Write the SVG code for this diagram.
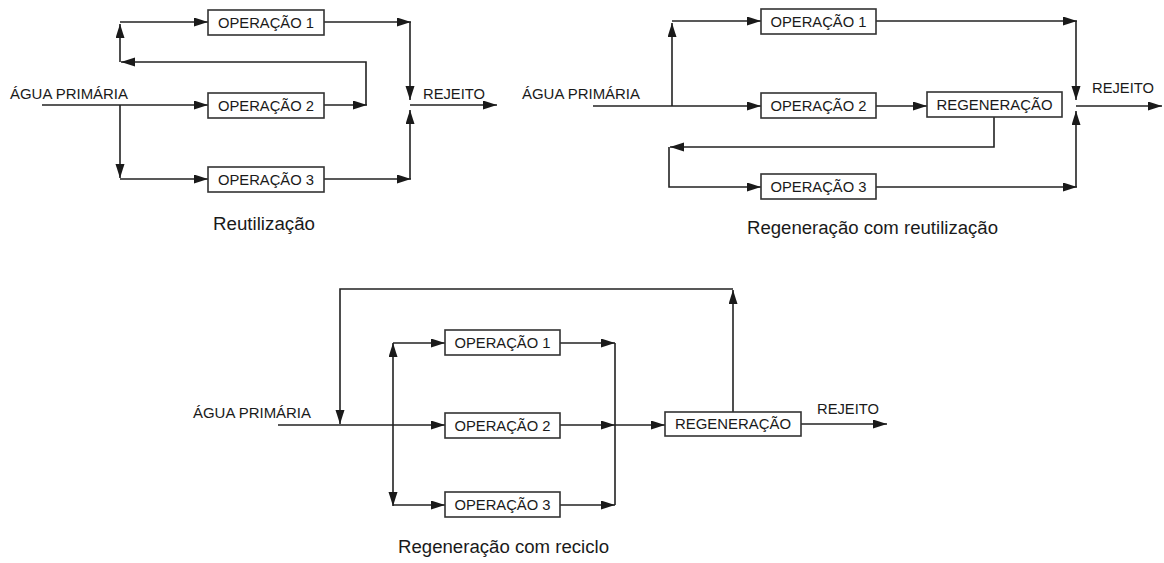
<svg xmlns="http://www.w3.org/2000/svg" width="1164" height="563" viewBox="0 0 1164 563">
<defs>
<marker id="ah" markerUnits="userSpaceOnUse" markerWidth="15" markerHeight="10" refX="14" refY="4.5" orient="auto" viewBox="0 0 15 10">
<path d="M0 0 L14 4.5 L0 9 z" fill="#1a1a1a"/>
</marker>
<style>
.box rect{fill:#fff;stroke:#333;stroke-width:1.6}
.bt{font-family:"Liberation Sans",Arial,sans-serif;font-size:14.5px;fill:#1a1a1a;text-anchor:middle}
.lbl{font-family:"Liberation Sans",Arial,sans-serif;font-size:14.5px;fill:#1a1a1a}
.cap{font-family:"Liberation Sans",Arial,sans-serif;font-size:18px;fill:#1a1a1a}
.conn path{fill:none;stroke:#222;stroke-width:1.6}
.conn path.a{marker-end:url(#ah)}
</style>
</defs>
<rect width="1164" height="563" fill="#fff"/>

<g class="conn" id="connectors">
<!-- Diagram 1: Reutilização -->
<path class="a" d="M42 105 H208"/>
<path class="a" d="M120 105 V178"/>
<path class="a" d="M120 179 H208"/>
<path class="a" d="M120 62 V24"/>
<path class="a" d="M120 22 H208"/>
<path class="a" d="M324 105 H367"/>
<path class="a" d="M366 105 V62 H121"/>
<path class="a" d="M324 22 H411"/>
<path class="a" d="M410 22 V100"/>
<path class="a" d="M324 179 H411"/>
<path class="a" d="M410 179 V110"/>
<path class="a" d="M410 105 H497"/>

<!-- Diagram 2: Regeneração com reutilização -->
<path class="a" d="M593 106 H761"/>
<path class="a" d="M672 106 V23"/>
<path class="a" d="M672 21 H761"/>
<path class="a" d="M876 106 H927"/>
<path class="a" d="M994 117 V147 H670"/>
<path class="a" d="M669 147 V187 H761"/>
<path class="a" d="M876 21 H1077"/>
<path class="a" d="M1076 21 V100"/>
<path class="a" d="M876 187 H1077"/>
<path class="a" d="M1076 187 V111"/>
<path class="a" d="M1076 106 H1162"/>

<!-- Diagram 3: Regeneração com reciclo -->
<path class="a" d="M278 425 H445"/>
<path class="a" d="M733 412 V290"/>
<path class="a" d="M733 289 H340 V424"/>
<path class="a" d="M393 425 V343"/>
<path class="a" d="M393 425 V506"/>
<path class="a" d="M393 343 H445"/>
<path class="a" d="M393 505 H445"/>
<path class="a" d="M560 343 H615"/>
<path class="a" d="M560 425 H615"/>
<path class="a" d="M560 505 H615"/>
<path d="M615 343 V505"/>
<path class="a" d="M615 425 H665"/>
<path class="a" d="M801 424 H887"/>
</g>

<!-- Diagram 1 nodes -->
<g id="d1-op1" class="box"><rect x="208" y="10" width="116" height="25"/><text class="bt" x="266" y="27.5" textLength="96" lengthAdjust="spacingAndGlyphs">OPERAÇÃO 1</text></g>
<g id="d1-op2" class="box"><rect x="208" y="93" width="116" height="25"/><text class="bt" x="266" y="110.5" textLength="96" lengthAdjust="spacingAndGlyphs">OPERAÇÃO 2</text></g>
<g id="d1-op3" class="box"><rect x="208" y="167" width="116" height="25"/><text class="bt" x="266" y="184.5" textLength="96" lengthAdjust="spacingAndGlyphs">OPERAÇÃO 3</text></g>
<g id="d1-labels">
<text class="lbl" x="10" y="99" textLength="118" lengthAdjust="spacingAndGlyphs">ÁGUA PRIMÁRIA</text>
<text class="lbl" x="423" y="99" textLength="62" lengthAdjust="spacingAndGlyphs">REJEITO</text>
<text class="cap" x="213" y="230" textLength="102" lengthAdjust="spacingAndGlyphs">Reutilização</text>
</g>

<!-- Diagram 2 nodes -->
<g id="d2-op1" class="box"><rect x="761" y="9" width="115" height="25"/><text class="bt" x="818.5" y="26.5" textLength="96" lengthAdjust="spacingAndGlyphs">OPERAÇÃO 1</text></g>
<g id="d2-op2" class="box"><rect x="761" y="93" width="115" height="25"/><text class="bt" x="818.5" y="110.5" textLength="96" lengthAdjust="spacingAndGlyphs">OPERAÇÃO 2</text></g>
<g id="d2-op3" class="box"><rect x="761" y="174" width="115" height="25"/><text class="bt" x="818.5" y="191.5" textLength="96" lengthAdjust="spacingAndGlyphs">OPERAÇÃO 3</text></g>
<g id="d2-regen" class="box"><rect x="927" y="92" width="135" height="25"/><text class="bt" x="994.5" y="109.5" textLength="116" lengthAdjust="spacingAndGlyphs">REGENERAÇÃO</text></g>
<g id="d2-labels">
<text class="lbl" x="522" y="99" textLength="118" lengthAdjust="spacingAndGlyphs">ÁGUA PRIMÁRIA</text>
<text class="lbl" x="1092" y="93" textLength="62" lengthAdjust="spacingAndGlyphs">REJEITO</text>
<text class="cap" x="747" y="234" textLength="251" lengthAdjust="spacingAndGlyphs">Regeneração com reutilização</text>
</g>

<!-- Diagram 3 nodes -->
<g id="d3-op1" class="box"><rect x="445" y="330" width="115" height="25"/><text class="bt" x="502.5" y="347.5" textLength="96" lengthAdjust="spacingAndGlyphs">OPERAÇÃO 1</text></g>
<g id="d3-op2" class="box"><rect x="445" y="413" width="115" height="25"/><text class="bt" x="502.5" y="430.5" textLength="96" lengthAdjust="spacingAndGlyphs">OPERAÇÃO 2</text></g>
<g id="d3-op3" class="box"><rect x="445" y="492" width="115" height="25"/><text class="bt" x="502.5" y="509.5" textLength="96" lengthAdjust="spacingAndGlyphs">OPERAÇÃO 3</text></g>
<g id="d3-regen" class="box"><rect x="665" y="412" width="136" height="24"/><text class="bt" x="733" y="429" textLength="116" lengthAdjust="spacingAndGlyphs">REGENERAÇÃO</text></g>
<g id="d3-labels">
<text class="lbl" x="193" y="418" textLength="118" lengthAdjust="spacingAndGlyphs">ÁGUA PRIMÁRIA</text>
<text class="lbl" x="817" y="414" textLength="62" lengthAdjust="spacingAndGlyphs">REJEITO</text>
<text class="cap" x="398" y="553" textLength="211" lengthAdjust="spacingAndGlyphs">Regeneração com reciclo</text>
</g>
</svg>
